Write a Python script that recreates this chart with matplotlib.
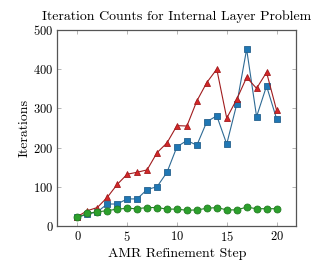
import matplotlib.pyplot as plt

plt.rcParams['font.family'] = 'cmr10'
plt.rcParams['mathtext.fontset'] = 'cm'
plt.rcParams['axes.formatter.use_mathtext'] = True

steps = list(range(21))
blue = [22, 30, 36, 56, 56, 69, 69, 93, 100, 137, 202, 218, 206, 266, 281, 209, 310, 451, 279, 357, 274]
red = [24, 39, 47, 73, 106, 132, 137, 143, 187, 212, 256, 255, 319, 366, 400, 275, 323, 379, 351, 392, 296]
green = [22, 32, 36, 39, 43, 45, 44, 47, 47, 43, 43, 40, 41, 45, 47, 41, 41, 48, 44, 44, 44]

fig = plt.figure(figsize=(3.15, 2.69), dpi=100)
ax = fig.add_axes([0.1825, 0.16, 0.7585, 0.7285])

ax.plot(steps, blue, color='#2e6a94', lw=0.8, marker='s', ms=5,
        mfc='#1f77b4', mec='#25618d', mew=0.6, zorder=3)
ax.plot(steps, red, color='#a01c1e', lw=0.8, marker='^', ms=5,
        mfc='#d62728', mec='#a01c1e', mew=0.6, zorder=4)
ax.plot(steps, green, color='#237d23', lw=0.8, marker='o', ms=5,
        mfc='#2ca02c', mec='#237d23', mew=0.6, zorder=5)

ax.set_xlim(-2, 22)
ax.set_ylim(0, 500)
ax.set_xticks([0, 5, 10, 15, 20])
ax.set_yticks([0, 100, 200, 300, 400, 500])
ax.tick_params(direction='in', top=True, right=True, length=3, width=0.5,
               colors='#999999', labelcolor='black', labelsize=9, pad=3)
for s in ax.spines.values():
    s.set_linewidth(0.9)
    s.set_color('#555555')

ax.set_title('Iteration Counts for Internal Layer Problem', fontsize=10, pad=7)
ax.set_xlabel('AMR Refinement Step', fontsize=10, labelpad=3)
ax.set_ylabel('Iterations', fontsize=10, labelpad=2)

fig.savefig('out.png', dpi=100)
